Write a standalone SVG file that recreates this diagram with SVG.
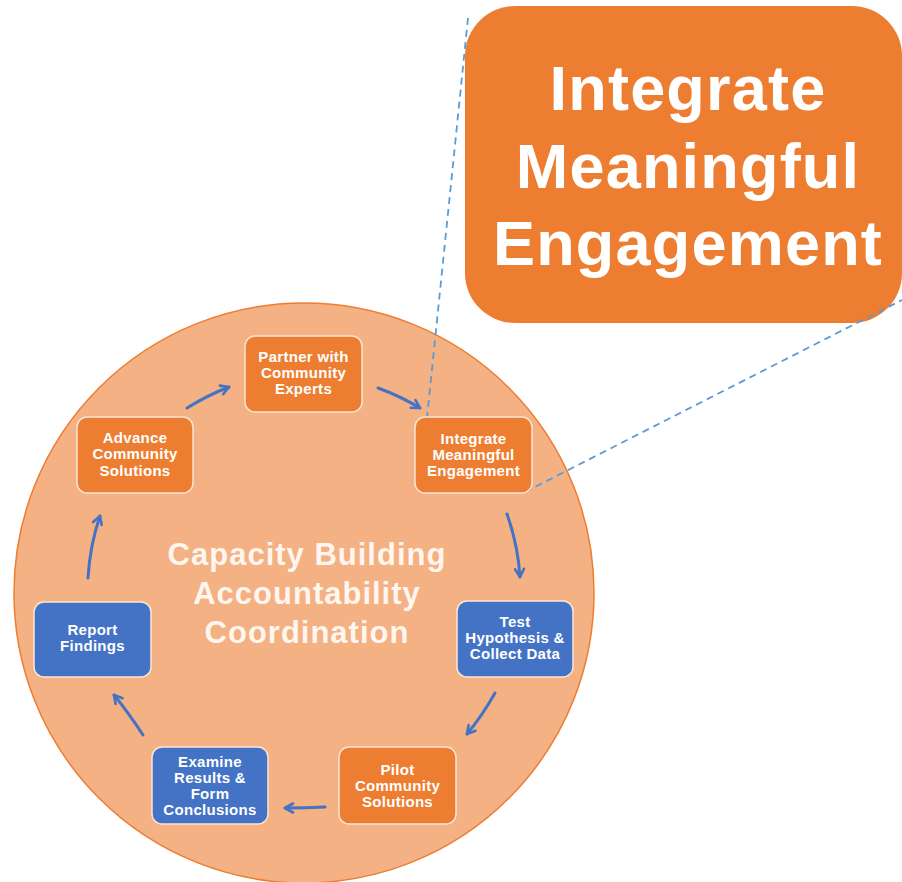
<svg xmlns="http://www.w3.org/2000/svg" width="902" height="882" viewBox="0 0 902 882">
  <style>
    .orange { fill: #ED7D31; stroke: #FBE5D6; stroke-width: 1.5; }
    .blue { fill: #4472C4; stroke: #FBE5D6; stroke-width: 1.5; }
    .lbl { font-family: "Liberation Sans", Arial, sans-serif; font-weight: bold; font-size: 15px; letter-spacing: 0.3px; fill: #FFFFFF; text-anchor: middle; }
    .center { font-family: "Liberation Sans", Arial, sans-serif; font-weight: bold; font-size: 31px; letter-spacing: 1px; fill: #FFF6EF; text-anchor: middle; }
    .big { font-family: "Liberation Sans", Arial, sans-serif; font-weight: bold; font-size: 63px; letter-spacing: 1.2px; fill: #FFFFFF; text-anchor: middle; }
    .arrow { fill: none; stroke: #4472C4; stroke-width: 3; stroke-linecap: round; marker-end: url(#head); }
    .dash { fill: none; stroke: #5B9BD5; stroke-width: 1.8; stroke-dasharray: 7 5; }
  </style>
  <defs>
    <marker id="head" viewBox="0 0 12 12" refX="10" refY="6" markerWidth="12" markerHeight="12" markerUnits="userSpaceOnUse" orient="auto">
      <path d="M2,1.5 L10,6 L2,10.5" fill="none" stroke="#4472C4" stroke-width="2.6" stroke-linecap="round" stroke-linejoin="round"/>
    </marker>
  </defs>

  <g id="circle">
    <circle cx="304" cy="593" r="290" fill="#F4B183" stroke="#ED7D31" stroke-width="1.5"/>
    <text class="center" x="307" y="565">Capacity Building</text>
    <text class="center" x="307" y="604">Accountability</text>
    <text class="center" x="307" y="643">Coordination</text>
  </g>

  <g id="callout">
    <rect x="465" y="6" width="437" height="317" rx="50" ry="50" fill="#ED7D31"/>
    <text class="big" x="688" y="110">Integrate</text>
    <text class="big" x="688" y="188">Meaningful</text>
    <text class="big" x="688" y="265">Engagement</text>
  </g>

  <g id="connectors">
    <line class="dash" x1="468" y1="18" x2="427" y2="418"/>
    <line class="dash" x1="525" y1="492" x2="902" y2="300"/>
    <path class="arrow" d="M187,408 Q208,395 229,387"/>
    <path class="arrow" d="M378,388 Q400,396 420,408"/>
    <path class="arrow" d="M507,514 Q518,545 520,577"/>
    <path class="arrow" d="M495,693 Q482,716 467,734"/>
    <path class="arrow" d="M325,807 Q305,808 285,808"/>
    <path class="arrow" d="M143,735 Q128,712 114,695"/>
    <path class="arrow" d="M88,578 Q90,545 100,516"/>
  </g>

  <g id="partner">
    <rect class="orange" x="245" y="336" width="117" height="76" rx="10"/>
    <text class="lbl" x="303.5" y="362">Partner with</text>
    <text class="lbl" x="303.5" y="378">Community</text>
    <text class="lbl" x="303.5" y="394">Experts</text>
  </g>
  <g id="integrate">
    <rect class="orange" x="415" y="417" width="117" height="76" rx="10"/>
    <text class="lbl" x="473.5" y="444">Integrate</text>
    <text class="lbl" x="473.5" y="460">Meaningful</text>
    <text class="lbl" x="473.5" y="476">Engagement</text>
  </g>
  <g id="test">
    <rect class="blue" x="457" y="601" width="116" height="76" rx="10"/>
    <text class="lbl" x="515" y="627">Test</text>
    <text class="lbl" x="515" y="643">Hypothesis &amp;</text>
    <text class="lbl" x="515" y="659">Collect Data</text>
  </g>
  <g id="pilot">
    <rect class="orange" x="339" y="747" width="117" height="77" rx="10"/>
    <text class="lbl" x="397.5" y="775">Pilot</text>
    <text class="lbl" x="397.5" y="791">Community</text>
    <text class="lbl" x="397.5" y="807">Solutions</text>
  </g>
  <g id="examine">
    <rect class="blue" x="152" y="747" width="116" height="77" rx="10"/>
    <text class="lbl" x="210" y="767">Examine</text>
    <text class="lbl" x="210" y="783">Results &amp;</text>
    <text class="lbl" x="210" y="799">Form</text>
    <text class="lbl" x="210" y="815">Conclusions</text>
  </g>
  <g id="report">
    <rect class="blue" x="34" y="602" width="117" height="75" rx="10"/>
    <text class="lbl" x="92.5" y="635">Report</text>
    <text class="lbl" x="92.5" y="651">Findings</text>
  </g>
  <g id="advance">
    <rect class="orange" x="77" y="417" width="116" height="76" rx="10"/>
    <text class="lbl" x="135" y="443">Advance</text>
    <text class="lbl" x="135" y="459">Community</text>
    <text class="lbl" x="135" y="476">Solutions</text>
  </g>
</svg>
